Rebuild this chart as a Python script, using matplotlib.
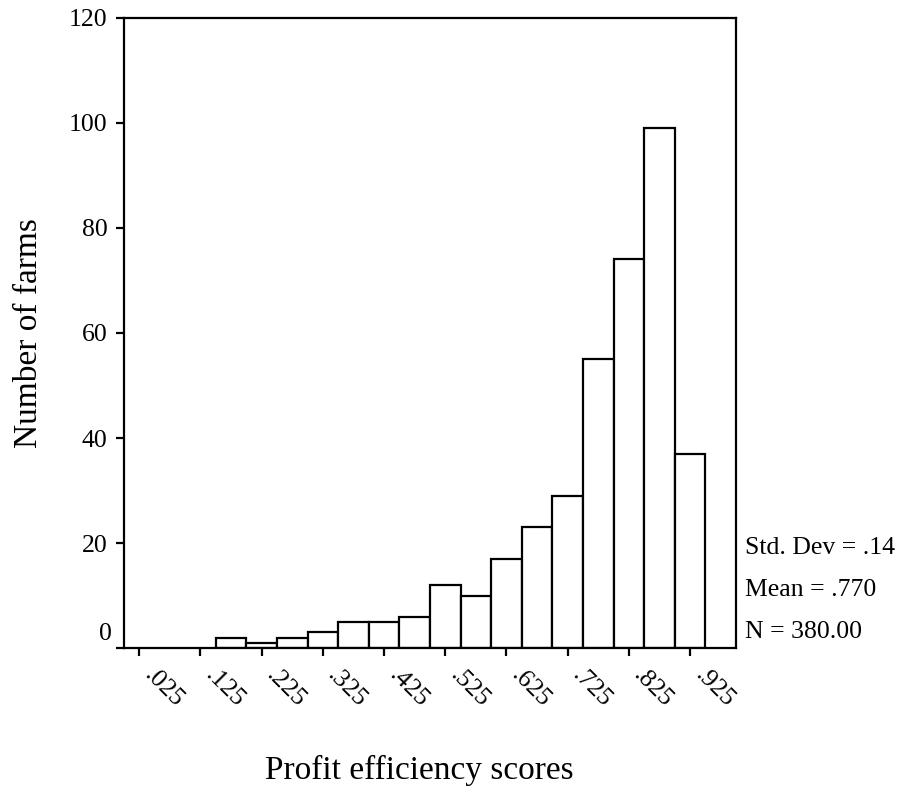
import matplotlib.pyplot as plt
from matplotlib.transforms import ScaledTranslation

plt.rcParams["font.family"] = ["Liberation Serif", "DejaVu Serif"]

# Balkenmitten (Klassenbreite .05) und Häufigkeiten
bin_centers = [0.175, 0.225, 0.275, 0.325, 0.375, 0.425, 0.475, 0.525,
               0.575, 0.625, 0.675, 0.725, 0.775, 0.825, 0.875, 0.925]
counts = [2, 1, 2, 3, 5, 5, 6, 12, 10, 17, 23, 29, 55, 74, 99, 37]
bin_width = 0.05

tick_pos = [0.025, 0.125, 0.225, 0.325, 0.425, 0.525, 0.625, 0.725, 0.825, 0.925]
tick_labels = [".025", ".125", ".225", ".325", ".425", ".525", ".625", ".725", ".825", ".925"]
y_ticks = [0, 20, 40, 60, 80, 100, 120]

stats_lines = ["Std. Dev = .14", "Mean = .770", "N = 380.00"]

fig = plt.figure(figsize=(9.03, 8.06), dpi=100)
ax = fig.add_axes([0.1373, 0.196, 0.6777, 0.7817])

ax.bar(bin_centers, counts, width=bin_width, facecolor="white",
       edgecolor="black", linewidth=1.6)

ax.set_xlim(0, 1)
ax.set_ylim(0, 120)

for s in ax.spines.values():
    s.set_linewidth(1.6)

ax.set_xticks(tick_pos)
ax.set_xticklabels(tick_labels, rotation=-45, ha="left", va="center",
                   rotation_mode="anchor", fontsize=18.5)
ax.tick_params(axis="x", direction="out", length=6, width=1.6, pad=11)
# Beschriftung leicht nach rechts schieben
shift = ScaledTranslation(0.08, 0, fig.dpi_scale_trans)
for lab in ax.get_xticklabels():
    lab.set_transform(lab.get_transform() + shift)

ax.set_yticks(y_ticks)
ax.set_yticklabels([""] + [str(v) for v in y_ticks[1:]], fontsize=18.5)
ax.tick_params(axis="y", direction="out", length=6, width=1.6, pad=6)

# SPSS setzt die Null etwas über die Grundlinie
ax.annotate("0", xy=(0, 0), xycoords=("axes fraction", "data"),
            xytext=(-12, 14), textcoords="offset pixels",
            ha="right", va="center", fontsize=18.5)

ax.set_ylabel("Number of farms", fontsize=24, labelpad=18)
fig.text(419 / 903, 1 - 770 / 806, "Profit efficiency scores",
         ha="center", va="center", fontsize=24)

# Kennwerte rechts neben dem Diagramm
for i, line in enumerate(stats_lines):
    ax.text(1.015, 19 - i * 8, line, transform=ax.get_yaxis_transform(),
            ha="left", va="center", fontsize=18.5)

plt.savefig("out.png", dpi=100)
